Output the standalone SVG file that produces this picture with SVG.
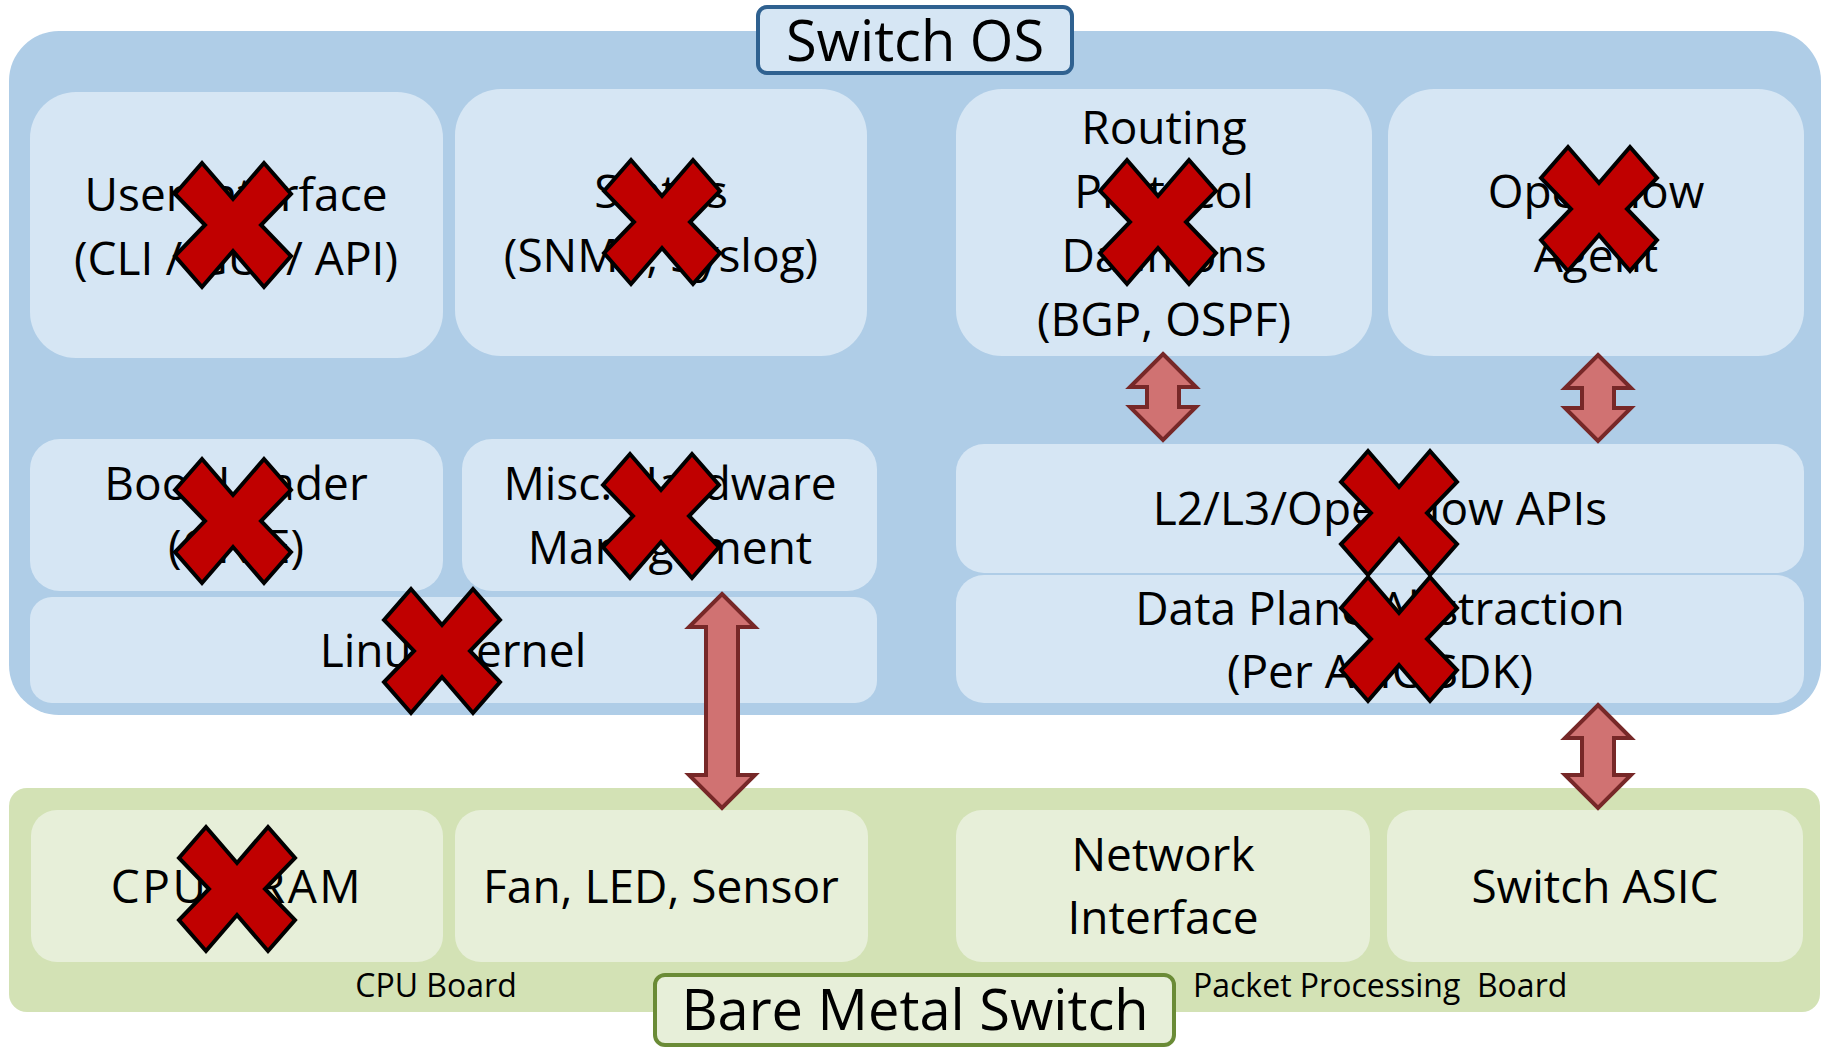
<svg xmlns="http://www.w3.org/2000/svg" xmlns:xlink="http://www.w3.org/1999/xlink" width="1839" height="1047" viewBox="0 0 1839 1047">
<style>
.os{fill:#AFCDE7}
.osn{fill:#D6E6F4}
.hw{fill:#D3E2B5}
.hwn{fill:#E7EFD9}
.t{font-family:"Open Sans","Noto Sans","Liberation Sans",sans-serif;font-size:46px;fill:#000;text-anchor:middle}
.big{font-size:56px}
.sm{font-size:32px}
.arr{fill:#D07272;stroke:#772828;stroke-width:4;stroke-linejoin:miter}
.x{fill:#C00000;stroke:#000;stroke-width:4;stroke-linejoin:miter}
</style>
<defs>
<polygon id="xm" class="x" points="-58,-31 -31,-62 0,-26 31,-62 58,-31 28,0 58,31 31,62 0,26 -31,62 -58,31 -28,0"/>
</defs>
<rect width="1839" height="1047" fill="#fff"/>
<g id="switch-os-area">
<rect class="os" x="9" y="31" width="1812" height="684" rx="50" ry="50"/>
</g>
<g id="bare-metal-area">
<rect class="hw" x="9" y="788" width="1811" height="224" rx="18" ry="18"/>
</g>
<g id="user-interface">
<rect class="osn" x="30" y="92" width="413" height="266" rx="46" ry="46"/>
<text class="t" x="236" y="211">User Interface</text>
<text class="t" x="236" y="275">(CLI / GUI / API)</text>
</g>
<g id="status">
<rect class="osn" x="455" y="89" width="412" height="267" rx="46" ry="46"/>
<text class="t" x="661" y="208">Status</text>
<text class="t" x="661" y="272">(SNMP, Syslog)</text>
</g>
<g id="routing">
<rect class="osn" x="956" y="89" width="416" height="267" rx="46" ry="46"/>
<text class="t" x="1164" y="144">Routing</text>
<text class="t" x="1164" y="208">Protocol</text>
<text class="t" x="1164" y="272">Daemons</text>
<text class="t" x="1164" y="336">(BGP, OSPF)</text>
</g>
<g id="openflow-agent">
<rect class="osn" x="1388" y="89" width="416" height="267" rx="46" ry="46"/>
<text class="t" x="1596" y="208">OpenFlow</text>
<text class="t" x="1596" y="272">Agent</text>
</g>
<g id="boot-loader">
<rect class="osn" x="30" y="439" width="413" height="152" rx="30" ry="30"/>
<text class="t" x="236" y="500">Boot Loader</text>
<text class="t" x="236" y="563">(ONIE)</text>
</g>
<g id="misc-hw">
<rect class="osn" x="462" y="439" width="415" height="152" rx="30" ry="30"/>
<text class="t" x="670" y="500">Misc. Hardware</text>
<text class="t" x="670" y="564">Management</text>
</g>
<g id="linux-kernel">
<rect class="osn" x="30" y="597" width="847" height="106" rx="22" ry="22"/>
<text class="t" x="453" y="667">Linux Kernel</text>
</g>
<g id="apis">
<rect class="osn" x="956" y="444" width="848" height="129" rx="28" ry="28"/>
<text class="t" x="1380" y="525">L2/L3/OpenFlow APIs</text>
</g>
<g id="data-plane">
<rect class="osn" x="956" y="575" width="848" height="128" rx="28" ry="28"/>
<text class="t" x="1380" y="625">Data Plane Abstraction</text>
<text class="t" x="1380" y="688">(Per ASIC SDK)</text>
</g>
<g id="switch-os-label">
<rect x="758" y="7" width="314" height="66" rx="9" ry="9" fill="#D6E6F4" stroke="#2F6190" stroke-width="4"/>
<text class="t big" x="915" y="61">Switch OS</text>
</g>
<g id="cpu-ram">
<rect class="hwn" x="31" y="810" width="412" height="152" rx="26" ry="26"/>
<text class="t" x="237" y="903" letter-spacing="2.5">CPU / RAM</text>
</g>
<g id="fan-led">
<rect class="hwn" x="455" y="810" width="413" height="152" rx="26" ry="26"/>
<text class="t" x="661" y="903">Fan, LED, Sensor</text>
</g>
<g id="network-interface">
<rect class="hwn" x="956" y="810" width="414" height="152" rx="26" ry="26"/>
<text class="t" x="1163" y="871">Network</text>
<text class="t" x="1163" y="934">Interface</text>
</g>
<g id="switch-asic">
<rect class="hwn" x="1387" y="810" width="416" height="152" rx="26" ry="26"/>
<text class="t" x="1595" y="903">Switch ASIC</text>
</g>
<g id="board-labels">
<text class="t sm" x="436" y="997">CPU Board</text>
<text class="t sm" x="1193" y="997" style="text-anchor:start">Packet Processing&#160; Board</text>
</g>
<g id="bare-metal-label">
<rect x="655" y="975" width="519" height="70" rx="10" ry="10" fill="#E7EFD9" stroke="#6A8B36" stroke-width="4"/>
<text class="t big" x="915" y="1030">Bare Metal Switch</text>
</g>
<g id="connectors">
<polygon class="arr" points="1163,354 1196,387 1179,387 1179,407 1196,407 1163,440 1130,407 1147,407 1147,387 1130,387"/>
<polygon class="arr" points="1598,355 1631,388 1614,388 1614,408 1631,408 1598,441 1565,408 1582,408 1582,388 1565,388"/>
<polygon class="arr" points="722,594 755,627 738,627 738,775 755,775 722,808 689,775 706,775 706,627 689,627"/>
<polygon class="arr" points="1598,705 1631,738 1614,738 1614,775 1631,775 1598,808 1565,775 1582,775 1582,738 1565,738"/>
</g>
<g id="crosses">
<use xlink:href="#xm" x="233" y="225"/>
<use xlink:href="#xm" x="662" y="222"/>
<use xlink:href="#xm" x="1158" y="222"/>
<use xlink:href="#xm" x="1599" y="209"/>
<use xlink:href="#xm" x="233" y="521"/>
<use xlink:href="#xm" x="661" y="516"/>
<use xlink:href="#xm" x="442" y="651"/>
<use xlink:href="#xm" x="1399" y="513"/>
<use xlink:href="#xm" x="1399" y="639"/>
<use xlink:href="#xm" x="237" y="889"/>
</g>
</svg>
